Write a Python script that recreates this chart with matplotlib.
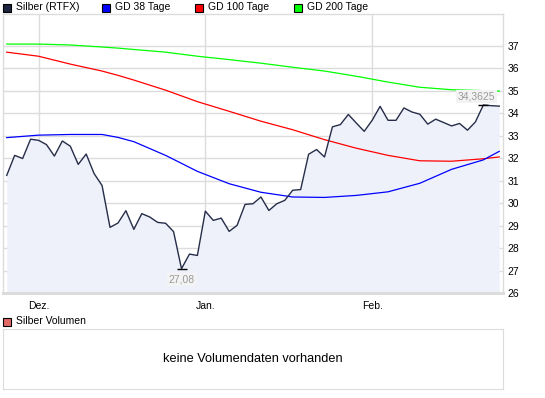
"""Silber (RTFX) daily chart with GD 38/100/200 and empty volume panel."""
import numpy as np
import matplotlib
matplotlib.use("Agg")
import matplotlib.pyplot as plt
from matplotlib.patches import Rectangle

plt.rcParams['font.family'] = ['Liberation Sans', 'DejaVu Sans']

# closing prices, one per trading day
CLOSE = [31.23, 32.12, 31.98, 32.84, 32.79, 32.60, 32.09, 32.76, 32.53, 31.72,
         32.18, 31.31, 30.78, 28.92, 29.11, 29.66, 28.83, 29.53, 29.38, 29.14,
         29.10, 28.73, 27.08, 27.73, 27.67,
         29.64, 29.23, 29.33, 28.74, 29.01, 29.94, 29.97, 30.27, 29.67, 29.97,
         30.12, 30.57, 30.60, 32.17, 32.38, 32.05, 33.39, 33.49, 33.94, 33.56,
         33.19, 33.68, 34.30, 33.68, 33.68, 34.23, 34.05, 33.95, 33.51, 33.73,
         33.58, 33.43, 33.54, 33.24, 33.61, 34.3625, 34.33, 34.31]

# moving averages, read at every 4th trading day (plus the last one)
MA_DAYS = [0, 4, 8, 12, 14, 16, 20, 24, 28, 32, 36, 40, 44, 48, 52, 56, 60, 62]
GD38 = [32.91, 33.02, 33.05, 33.05, 32.92, 32.73, 32.12, 31.41, 30.86, 30.48,
        30.27, 30.25, 30.34, 30.50, 30.88, 31.50, 31.92, 32.30]
GD100 = [36.71, 36.53, 36.18, 35.87, 35.68, 35.47, 35.02, 34.51, 34.08, 33.64,
         33.26, 32.82, 32.44, 32.12, 31.88, 31.86, 31.97, 32.05]
GD200 = [37.07, 37.07, 37.03, 36.94, 36.89, 36.83, 36.71, 36.53, 36.38, 36.22,
         36.04, 35.87, 35.64, 35.38, 35.15, 35.04, 35.00, 34.98]

MONTH_DAYS = [4, 25, 46]
MONTH_LABELS = ["Dez.", "Jan.", "Feb."]
Y_TICKS = list(range(26, 38))

LEGEND = [("Silber (RTFX)", "#1c2440", 3), ("GD 38 Tage", "#0000ff", 102),
          ("GD 100 Tage", "#ff0000", 195), ("GD 200 Tage", "#00ff00", 294)]

W, H = 545, 398
GRID = "#dcdcdc"
FS = 7.5


def _fx(px):
    return px / W


def _fy(py):
    return 1 - py / H


def _legend_item(fig, label, color, x_px, y_px):
    fig.add_artist(Rectangle((_fx(x_px), _fy(y_px + 8)), _fx(8), 8 / H,
                             transform=fig.transFigure, facecolor=color,
                             edgecolor="black", linewidth=0.8))
    fig.text(_fx(x_px + 13), _fy(y_px + 4), label, fontsize=FS, va="center", ha="left")


def _main():
    fig = plt.figure(figsize=(W / 100, H / 100), dpi=100)
    ax = fig.add_axes([_fx(3), _fy(293), _fx(500), (293 - 13.5) / H])
    days = np.arange(len(CLOSE))
    close = np.array(CLOSE)

    ax.fill_between(days, close, 26, color="#eef1fa", linewidth=0)
    ax.plot(MA_DAYS, GD200, color="#00ff00", linewidth=0.9)
    ax.plot(MA_DAYS, GD100, color="#ff0000", linewidth=0.9)
    ax.plot(MA_DAYS, GD38, color="#0000ff", linewidth=0.9)
    ax.plot(days, close, color="#262d48", linewidth=1.0)

    i_min, i_max = int(np.argmin(close)), int(np.argmax(close))
    ax.plot([i_min, i_max], [close[i_min], close[i_max]], "_", color="black",
            markersize=6.5, markeredgewidth=1.0)
    box = dict(facecolor="#f3f3f3", edgecolor="none", pad=1.0)
    ax.annotate(str(close[i_min]).replace(".", ","), (i_min, close[i_min]),
                xytext=(0, -8), textcoords="offset points", ha="center", va="center",
                fontsize=FS, color="#9a9a9a", bbox=box)
    ax.annotate(str(close[i_max]).replace(".", ","), (i_max, close[i_max]),
                xytext=(8.5, 6), textcoords="offset points", ha="right", va="center",
                fontsize=FS, color="#9a9a9a", bbox=box)

    ax.set_xlim(-0.47, len(CLOSE) - 1 + 0.47)
    ax.set_ylim(26, 38.43)
    ax.set_yticks(Y_TICKS)
    ax.set_xticks(MONTH_DAYS)
    ax.set_xticklabels(MONTH_LABELS)
    ax.yaxis.tick_right()
    ax.tick_params(axis="both", length=0, labelsize=FS, colors="black")
    ax.tick_params(axis="y", pad=3)
    ax.tick_params(axis="x", pad=6)
    ax.grid(True, color=GRID, linewidth=1.0)
    ax.set_axisbelow(True)
    for side, spine in ax.spines.items():
        spine.set_color(GRID)
        spine.set_linewidth(2.2 if side == "bottom" else 1.0)

    for label, color, x_px in LEGEND:
        _legend_item(fig, label, color, x_px, 3.5)

    _legend_item(fig, "Silber Volumen", "#e06a66", 3, 317.5)
    vol = fig.add_axes([_fx(3), _fy(389), _fx(500), (389 - 329) / H])
    vol.set_xticks([])
    vol.set_yticks([])
    for spine in vol.spines.values():
        spine.set_color(GRID)
    vol.text(0.5, 0.5, "keine Volumendaten vorhanden", transform=vol.transAxes,
             ha="center", va="center", fontsize=9.2)

    fig.savefig("out.png", dpi=100)


if __name__ == "__main__":
    _main()
